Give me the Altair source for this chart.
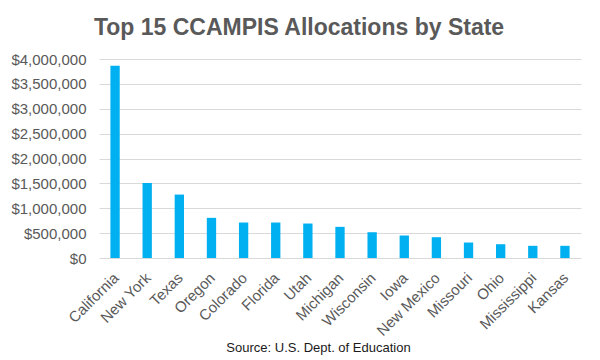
import altair as alt
import pandas as pd

states = ["California", "New York", "Texas", "Oregon", "Colorado", "Florida", "Utah",
          "Michigan", "Wisconsin", "Iowa", "New Mexico", "Missouri", "Ohio",
          "Mississippi", "Kansas"]
allocations = [3866000, 1510000, 1275000, 807000, 713000, 713000, 693000,
               626000, 518000, 452000, 418000, 311000, 277000, 245000, 245000]
y_ticks = [0, 500000, 1000000, 1500000, 2000000, 2500000, 3000000, 3500000, 4000000]

df = pd.DataFrame({"state": states, "amount": allocations})

font = "Liberation Sans"
grey = "#595959"

chart = alt.Chart(df).mark_bar(color="#00B0F0").encode(
    x=alt.X("state:N", sort=states,
            scale=alt.Scale(paddingInner=0.71, paddingOuter=0.355),
            axis=alt.Axis(title="Source: U.S. Dept. of Education", labelAngle=-45,
                          labelFont=font, labelFontSize=15, labelColor=grey,
                          ticks=False, domain=False, labelPadding=12, labelOffset=-4,
                          titleFont=font, titleFontSize=13, titleFontWeight="normal",
                          titleColor="#1a1a1a", titleX=219, titleY=93,
                          titleBaseline="alphabetic", titleAnchor="middle")),
    y=alt.Y("amount:Q", scale=alt.Scale(domain=[0, 4000000], nice=False),
            axis=alt.Axis(title=None, format="$,.0f", values=y_ticks,
                          labelOverlap=False,
                          labelFont=font, labelFontSize=15, labelColor=grey,
                          ticks=False, domain=False, labelPadding=13,
                          gridColor="#d9d9d9", gridWidth=1.2)),
).properties(
    width=482, height=199,
    title=alt.TitleParams("Top 15 CCAMPIS Allocations by State", font=font,
                          fontSize=23, fontWeight="bold", color=grey,
                          anchor="middle", dx=-41, offset=12),
    autosize=alt.AutoSizeParams(type="none"),
    padding={"left": 91, "top": 51, "right": 10, "bottom": 101},
).configure_view(stroke=None)

chart.save("out.html", embed_options={"renderer": "svg", "actions": False})
